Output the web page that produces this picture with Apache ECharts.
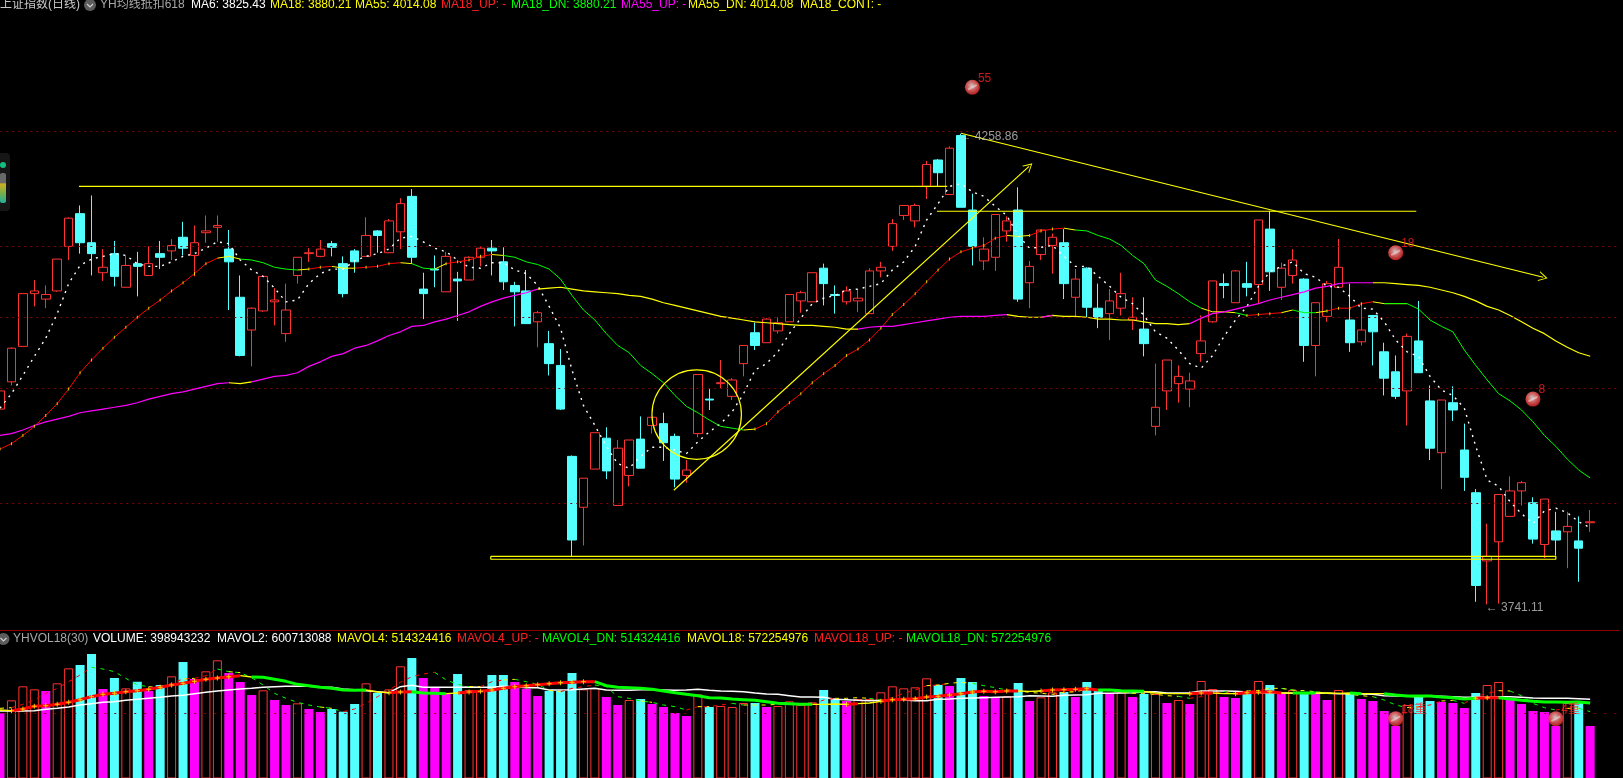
<!DOCTYPE html>
<html><head><meta charset="utf-8">
<style>html,body{margin:0;padding:0;background:#000;overflow:hidden}#c{width:1623px;height:778px}</style>
<script src="https://cdn.jsdelivr.net/npm/echarts@6/dist/echarts.min.js"></script>
</head><body><div id="c"></div>
<script>
const opens=[3956,3986,4025,4083,4077,4086,4135,4171,4139,4106,4127,4090,4116,4103,4127,4130,4145,4125,4150,4156,4132,4079,4043,4064,4074,4039,4103,4127,4124,4138,4116,4130,4124,4152,4128,4151,4190,4088,4110,4085,4099,4098,4123,4133,4118,4092,4086,4052,4028,4004,3904,3848,3890,3924,3850,3883,3923,3938,3940,3926,3883,3929,3967,3984,3970,4006,4040,4029,4042,4052,4075,4074,4111,4082,4074,4075,4061,4108,4135,4169,4163,4201,4230,4192,4257,4175,4119,4123,4152,4175,4095,4126,4136,4139,4079,4111,4067,4061,4067,4054,4044,3937,3976,3984,3978,4017,4052,4094,4073,4094,4093,4154,4090,4103,4099,4026,4058,4090,4054,4030,4059,4019,3997,3976,4031,3965,3908,3963,3911,3864,3789,3810,3838,3866,3853,3807,3822,3821,3811,3831];
const closes=[3976,4023,4083,4086,4082,4121,4166,4139,4127,4112,4102,4114,4113,4116,4123,4136,4133,4139,4152,4158,4118,4015,4067,4102,4076,4065,4123,4128,4132,4134,4083,4118,4147,4147,4163,4182,4123,4083,4109,4124,4097,4123,4133,4130,4096,4085,4050,4062,4006,3956,3812,3880,3930,3888,3913,3922,3891,3947,3919,3879,3889,3994,3966,3985,3988,4026,4026,4055,4051,4082,4084,4106,4094,4081,4086,4078,4108,4112,4160,4180,4180,4225,4216,4243,4178,4135,4132,4170,4163,4077,4113,4153,4145,4094,4099,4068,4057,4075,4083,4057,4028,3958,4010,3992,3987,4031,4097,4092,4108,4090,4164,4107,4111,4120,4026,4073,4094,4112,4029,4043,4041,3990,3970,4036,3996,3913,3966,3955,3881,3762,3794,3862,3866,3875,3813,3857,3812,3827,3803,3832];
const lows=[3956,3982,4025,4069,4067,4085,4120,4127,4103,4097,4091,4090,4080,4103,4110,4120,4125,4102,4139,4140,4065,4014,4003,4063,4048,4030,4094,4118,4123,4124,4079,4106,4124,4128,4128,4132,4116,4055,4090,4085,4053,4098,4113,4103,4087,4047,4050,4024,3993,3955,3794,3806,3890,3879,3850,3871,3891,3929,3899,3870,3875,3925,3955,3979,3966,3992,4021,4029,4039,4052,4062,4074,4070,4061,4071,4063,4061,4101,4130,4164,4156,4187,4201,4192,4178,4114,4109,4108,4140,4074,4067,4120,4105,4077,4057,4057,4045,4032,4059,4043,4014,3927,3955,3963,3958,4008,4051,4078,4073,4080,4072,4086,4076,4094,4008,3992,4052,4090,4019,4026,4004,3971,3967,3938,3996,3900,3868,3943,3866,3744,3741.11,3742,3838,3850,3808,3792,3795,3781,3766,3821];
const highs=[3976,4024,4083,4098,4092,4121,4167,4180,4191,4132,4141,4125,4129,4135,4141,4143,4162,4158,4169,4169,4153,4103,4068,4103,4089,4094,4123,4133,4142,4141,4124,4132,4167,4153,4165,4188,4198,4106,4125,4129,4107,4124,4135,4142,4134,4096,4109,4064,4042,4022,3905,3880,3930,3936,3922,3922,3948,3947,3952,3929,3900,3994,3978,4010,3990,4026,4051,4056,4057,4082,4086,4106,4116,4092,4091,4088,4111,4118,4165,4180,4182,4229,4231,4245,4258.86,4193,4145,4170,4168,4200,4119,4153,4149,4154,4110,4112,4094,4088,4106,4079,4079,4006,4010,4004,3996,4059,4097,4105,4109,4118,4164,4174,4117,4132,4100,4073,4097,4143,4094,4073,4059,4029,4015,4039,4075,3982,3966,3981,3940,3868,3830,3862,3882,3877,3859,3857,3843,3843,3838,3845];
const ma6=[3957,3973,3993,4014,4034,4061,4094,4114,4121,4124,4127,4125,4116,4113,4113,4118,4124,4127,4133,4140,4138,4120,4109,4102,4089,4074,4076,4094,4105,4110,4110,4119,4124,4127,4132,4144,4146,4140,4133,4129,4120,4112,4111,4117,4117,4109,4105,4092,4069,4045,3999,3960,3938,3915,3896,3891,3904,3914,3914,3911,3907,3920,3931,3940,3953,3973,3999,4006,4019,4039,4056,4072,4078,4081,4087,4088,4091,4094,4109,4118,4135,4164,4182,4201,4204,4195,4190,4179,4169,4147,4133,4134,4136,4124,4113,4113,4102,4091,4079,4072,4059,4041,4034,4021,4006,4001,4015,4036,4054,4069,4091,4107,4113,4118,4105,4101,4091,4090,4080,4067,4066,4052,4032,4019,4014,3992,3977,3971,3957,3915,3878,3871,3854,3841,3830,3844,3847,3842,3832,3825.43];
const ma18=[3912,3918,3927,3937,3949,3962,3978,3996,4010,4023,4035,4046,4057,4067,4076,4086,4095,4105,4116,4122,4124,4121,4120,4117,4112,4110,4109,4110,4112,4113,4111,4111,4112,4113,4116,4117,4116,4111,4110,4116,4118,4120,4124,4126,4125,4123,4118,4115,4110,4099,4081,4065,4054,4039,4026,4018,4004,3995,3985,3971,3959,3952,3944,3937,3935,3933,3934,3940,3953,3963,3973,3985,3995,4004,4015,4022,4032,4045,4060,4071,4083,4096,4109,4121,4129,4133,4136,4144,4147,4146,4147,4152,4154,4155,4153,4152,4147,4143,4136,4125,4116,4098,4091,4083,4074,4067,4063,4063,4062,4059,4060,4061,4062,4065,4062,4062,4064,4067,4067,4072,4074,4072,4072,4072,4066,4054,4047,4041,4021,4004,3988,3973,3965,3955,3942,3927,3915,3901,3889,3880.21];
const ma55=[3927,3929,3933,3938,3942,3945,3948,3952,3954,3956,3958,3960,3963,3967,3970,3973,3975,3978,3981,3984,3985,3984,3986,3989,3992,3993,3996,4003,4008,4014,4017,4023,4026,4031,4037,4041,4047,4048,4052,4055,4059,4063,4069,4074,4078,4081,4084,4088,4089,4090,4088,4086,4085,4084,4083,4081,4080,4077,4073,4070,4067,4064,4061,4058,4056,4054,4052,4051,4050,4049,4048,4048,4047,4046,4044,4044,4046,4047,4047,4049,4051,4053,4055,4057,4058,4058,4058,4059,4060,4058,4057,4057,4059,4058,4058,4057,4055,4055,4054,4054,4052,4050,4050,4049,4050,4056,4061,4063,4066,4069,4072,4076,4079,4082,4085,4089,4091,4094,4095,4095,4095,4095,4094,4093,4092,4090,4087,4084,4080,4075,4069,4065,4059,4052,4045,4039,4031,4024,4018,4014.08];
const ma18States=[[0,19,'r'],[19,21,'y'],[21,26,'g'],[26,27,'y'],[27,29,'r'],[29,31,'y'],[31,35,'r'],[35,36,'y'],[36,38,'g'],[38,39,'y'],[39,43,'r'],[43,44,'y'],[44,65,'g'],[65,66,'y'],[66,88,'r'],[88,90,'y'],[90,93,'r'],[93,94,'y'],[94,105,'g'],[105,108,'y'],[108,109,'g'],[109,112,'r'],[112,113,'y'],[113,115,'g'],[115,116,'y'],[116,120,'r'],[120,121,'y'],[121,122,'g'],[122,123,'y'],[123,139,'g']];
const ma55States=[[0,20,'m'],[20,22,'y'],[22,47,'m'],[47,75,'y'],[75,88,'m'],[88,91,'y'],[91,92,'m'],[92,104,'y'],[104,120,'m'],[120,139,'y']];
const volumes=[475,553,637,619,609,655,745,765,831,621,687,625,665,609,645,697,783,681,727,793,717,663,585,613,555,525,535,501,483,501,485,531,655,597,619,757,807,687,627,597,711,615,615,705,705,663,621,579,609,609,717,619,625,573,525,555,561,531,513,477,459,589,513,519,513,537,537,513,519,547,525,541,615,561,549,561,561,601,637,625,631,685,645,639,687,663,579,573,577,657,549,571,601,603,573,663,609,591,601,573,591,591,537,555,531,669,621,573,567,591,669,645,591,615,597,591,555,615,591,561,549,489,399,525,573,549,543,537,507,597,645,663,561,531,489,483,399,537,549,398.9];
const volKinds="mrrrmrrccm"+"crcmcrcmrr"+"mmmrmmrmmc"+"ccrcrrcmmm"+"crrccmmmcc"+"crrmmrcmmm"+"mrcrrrcmrr"+"rrccmrrrrr"+"rrcmccmmrc"+"mrrcmccmrm"+"crmrmrrmmc"+"rcmrcmmrcm"+"mmmrccmmmc"+"rrmmmmmrcm";
const volThick=[495,491,501,517,521,529,541,557,575,589,595,605,611,619,631,645,655,667,679,687,695,701,693,691,679,667,649,641,631,625,615,613,615,603,599,603,605,597,595,593,597,603,607,615,625,635,641,647,653,659,661,665,665,641,631,629,625,619,609,599,589,581,569,567,561,557,553,545,535,533,529,529,529,531,529,533,537,547,557,559,563,573,577,585,593,603,607,605,609,609,607,609,615,617,619,623,615,615,611,609,607,597,593,593,593,597,597,593,593,599,601,605,597,597,597,597,597,595,597,593,593,593,585,579,579,579,573,569,561,565,569,569,561,553,547,543,543,541,543,537];
const volThickStates=[[0,1,'y'],[1,21,'r'],[21,22,'y'],[22,32,'g'],[32,34,'y'],[34,36,'r'],[36,39,'g'],[39,40,'y'],[40,52,'r'],[52,71,'g'],[71,74,'y'],[74,75,'r'],[75,77,'y'],[77,89,'r'],[89,91,'y'],[91,96,'r'],[96,100,'g'],[100,104,'y'],[104,106,'r'],[106,108,'y'],[108,112,'r'],[112,113,'y'],[113,115,'g'],[115,118,'y'],[118,119,'g'],[119,121,'y'],[121,129,'g'],[129,131,'r'],[131,139,'g']];
const volWhite=[489,489,489,491,499,505,513,525,533,541,545,553,559,565,571,579,583,593,601,609,615,621,625,631,635,637,637,637,633,631,621,617,611,605,599,635,643,631,631,631,631,633,631,631,637,635,629,629,615,615,617,621,625,615,613,613,617,617,615,613,615,619,613,609,607,605,597,591,589,581,573,573,571,559,557,553,551,553,557,555,551,551,559,561,565,567,569,571,573,575,581,579,577,583,585,587,595,595,597,599,603,605,597,597,599,609,609,609,607,603,599,597,597,595,595,595,595,593,593,591,589,581,579,577,575,579,577,575,571,571,573,575,575,571,567,565,565,565,563,559];
const volDash=[505,509,529,555,595,625,665,705,751,741,725,685,645,635,629,655,681,685,701,741,725,719,689,645,595,565,541,525,513,505,485,501,535,575,613,661,695,711,721,675,649,635,635,665,675,679,665,649,613,605,625,635,645,635,575,565,549,541,525,515,495,515,515,525,535,525,525,525,529,535,529,529,555,565,565,569,565,555,569,595,615,641,645,655,661,655,641,629,615,609,601,595,589,601,605,619,615,611,605,595,595,589,581,577,565,575,595,605,595,609,611,625,625,615,611,605,595,595,589,581,575,555,525,509,515,525,549,553,535,575,595,611,609,581,535,509,495,505,505,485];
const gridLevels=[4261.6,4134.9,4056.8,3978.9,3852.4];
const volGridLevel=[475];
const resistanceA=[[6.9,4201],[82.8,4201]];
const resistanceB=[[81.9,4173.6],[123.8,4173.6]];
const supportBox=[[42.9,3794],[136,3794],[136,3790.8],[42.9,3790.8],[42.9,3794]];
const upTrend=[[58.9,3866.7],[89.95,4223]];
const downTrend=[[84,4259.4],[134.9,4101]];
const circleMark=[60.9,3950,3.91];
const priceMarks=[[85,4310,'55'],[122,4128,'18'],[134,3967,'8']];
const volMarks=[[122,443,'18重'],[136,443,'4重']];
const extremes=[[84,4258.86,'← 4258.86'],[130,3741.11,'← 3741.11']];
const headerMain=[['上证指数(日线)',0,'#c8c8c8'],['YH均线抵扣618',100,'#a8a8a8'],['MA6: 3825.43',191,'#ffffff'],['MA18: 3880.21',270,'#ffff00'],['MA55: 4014.08',355,'#ffff00'],['MA18_UP: -',441,'#ff2020'],['MA18_DN: 3880.21',511,'#00ff00'],['MA55_UP: -',621,'#ff00ff'],['MA55_DN: 4014.08',688,'#ffff00'],['MA18_CONT: -',800,'#ffff00']];
const headerVol=[['YHVOL18(30)',13,'#a8a8a8'],['VOLUME: 398943232',93,'#ffffff'],['MAVOL2: 600713088',217,'#ffffff'],['MAVOL4: 514324416',337,'#ffff00'],['MAVOL4_UP: -',457,'#ff2020'],['MAVOL4_DN: 514324416',542,'#00ff00'],['MAVOL18: 572254976',687,'#ffff00'],['MAVOL18_UP: -',814,'#ff2020'],['MAVOL18_DN: 572254976',906,'#00ff00']];

const RED='#ff3232',CY='#54ffff',YE='#ffff00',GR='#00ff00',MG='#ff00ff',GRID='#8c0000';
const cols={r:'#ff0000',g:GR,y:YE,m:MG};
const SLOTS=142,BAND=11.44,FONT='"Liberation Sans","Noto Sans CJK SC",sans-serif';
const cats=Array.from({length:SLOTS},(_,i)=>String(i));
const candle=opens.map((o,i)=>[o,closes[i],lows[i],highs[i]]);

function segMap(ranges,n){const s=new Array(n).fill(null);ranges.forEach(([a,b,c])=>{for(let j=a;j<b;j++)s[j]=c;});return s;}
function colored(vals,ranges,color,width,xi,yi,z){
  const s=segMap(ranges,vals.length);
  return Object.keys(color).map(c=>({type:'line',xAxisIndex:xi,yAxisIndex:yi,z:c==='y'?z-1:z,showSymbol:false,symbol:'none',silent:true,
    lineStyle:{color:color[c],width:typeof width==='object'?width[c]:width},
    data:vals.map((v,i)=>(s[i]===c||s[i-1]===c)?v:null)}));
}
function ticks(vals,ranges,xi,yi,symbol,size,z){
  const s=segMap(ranges,vals.length);
  return {type:'scatter',xAxisIndex:xi,yAxisIndex:yi,z,symbol,symbolSize:size,silent:true,itemStyle:{color:YE},
    data:vals.map((v,i)=>s[i]==='r'?[i,v]:null).filter(Boolean)};
}
function dashSeries(){
  const classify=i=>{const d=volDash[i+1]-volDash[i];return d>8?'r':d<-8?'g':'y';};
  return ['r','g','y'].map(c=>({type:'line',xAxisIndex:1,yAxisIndex:1,z:6,symbol:'none',silent:true,
    lineStyle:{color:cols[c],width:1,type:[4,5]},
    data:volDash.map((v,i)=>(i<volDash.length-1&&classify(i)===c)||(i>0&&classify(i-1)===c)?v:null)}));
}
function yLine(points,width){return {type:'line',xAxisIndex:2,yAxisIndex:0,z:9,symbol:'none',silent:true,data:points,lineStyle:{color:YE,width}};}
function arrow(points){
  return {type:'line',xAxisIndex:2,yAxisIndex:0,z:9,symbol:'none',silent:true,data:[],
    markLine:{silent:true,animation:false,symbol:['none','path://M0 0L10 14L8 14L0 3L-8 14L-10 14Z'],symbolSize:[10,9],
      label:{show:false},lineStyle:{color:YE,width:1.2,type:'solid'},
      data:[[{coord:points[0]},{coord:points[1]}]]}};
}
const ball={type:'radial',x:0.45,y:0.4,r:0.62,colorStops:[{offset:0,color:'#fff0f0'},{offset:0.5,color:'#ff7070'},{offset:1,color:'#d82020'}]};
function marks(list,xi,yi){
  return [{type:'scatter',xAxisIndex:xi,yAxisIndex:yi,z:12,symbol:'circle',symbolSize:15,silent:true,itemStyle:{color:ball},
    data:list.map(m=>({value:[m[0],m[1]],label:{formatter:m[2]}})),
    label:{show:true,position:'right',distance:0,offset:[-2,-9],color:'#ff2020',fontSize:12,fontFamily:FONT}},
   {type:'scatter',xAxisIndex:xi,yAxisIndex:yi,z:13,symbol:'rect',symbolSize:[10,2],symbolRotate:28,silent:true,
    itemStyle:{color:'rgba(255,255,255,0.5)'},data:list.map(m=>[m[0],m[1]])}];
}
const series=[
 {type:'candlestick',xAxisIndex:0,yAxisIndex:0,z:3,barWidth:9,silent:true,data:candle,
  itemStyle:{color:'rgba(0,0,0,0)',color0:CY,borderColor:RED,borderColor0:CY,borderColorDoji:RED,borderWidth:1},
  markLine:{silent:true,animation:false,symbol:'none',label:{show:false},lineStyle:{color:GRID,width:1,type:[2,4]},
    data:gridLevels.map(v=>({yAxis:v}))}},
 {type:'line',xAxisIndex:0,yAxisIndex:0,z:5,symbol:'none',silent:true,data:ma6,lineStyle:{color:'#fff',width:1.4,type:[2,5]}},
 ...colored(ma18,ma18States,{r:'#ff0000',g:GR,y:YE},1,0,0,5),
 ticks(ma18,ma18States,0,0,'rect',[1,3],6),
 ...colored(ma55,ma55States,{m:MG,y:YE},1.2,0,0,5),
 yLine(resistanceA,1.2),yLine(resistanceB,1.2),yLine(supportBox,1.2),
 arrow(upTrend),arrow(downTrend),
 {type:'custom',xAxisIndex:2,yAxisIndex:0,z:9,silent:true,data:[circleMark],
  renderItem(p,api){const c=api.coord([api.value(0),api.value(1)]);const r=api.size([api.value(2),0])[0];
    return {type:'circle',shape:{cx:c[0],cy:c[1],r},style:{fill:'none',stroke:YE,lineWidth:1.2}};}},
 {type:'scatter',xAxisIndex:0,yAxisIndex:0,z:11,symbol:'circle',symbolSize:1,silent:true,itemStyle:{color:'rgba(0,0,0,0)'},
  data:extremes.map(m=>({value:[m[0],m[1]],label:{formatter:m[2]}})),
  label:{show:true,position:'right',distance:0,offset:[-2,3],color:'#c0c0c0',fontSize:12,fontFamily:FONT}},
 ...marks(priceMarks,0,0),
 {type:'bar',xAxisIndex:1,yAxisIndex:1,z:3,barWidth:9,silent:true,
  data:volumes.map((v,i)=>{const k=volKinds[i];return {value:v,itemStyle:k==='r'?{color:'rgba(0,0,0,0)',borderColor:RED,borderWidth:1}:{color:k==='c'?CY:MG}};}),
  markLine:{silent:true,animation:false,symbol:'none',label:{show:false},lineStyle:{color:GRID,width:1,type:[2,8]},data:volGridLevel.map(v=>({yAxis:v}))}},
 {type:'line',xAxisIndex:1,yAxisIndex:1,z:5,symbol:'none',silent:true,data:volWhite,lineStyle:{color:'#fff',width:1.5}},
 ...dashSeries(),
 ...colored(volThick,volThickStates,{r:'#ff0000',g:GR,y:YE},{r:3,g:3,y:1.4},1,1,7),
 ticks(volThick,volThickStates,1,1,'path://M2 0H3V2H5V3H3V5H2V3H0V2H2Z',5,8),
 ...marks(volMarks,1,1)
];
const txt=(t,x,y,c)=>({type:'text',z:20,style:{text:t,x,y,fill:c,font:'12px '+FONT,textVerticalAlign:'middle'}});
const icon=(x,y)=>[{type:'circle',z:20,shape:{cx:x,cy:y,r:6},style:{fill:'#5c5c5c'}},
  {type:'polyline',z:21,shape:{points:[[x-3,y-1],[x,y+2],[x+3,y-1]]},style:{stroke:'#cfcfcf',lineWidth:1.2,fill:'none'}}];
const graphic=[
 ...headerMain.map(h=>txt(h[0],h[1],5,h[2])),
 ...icon(90,5),
 ...headerVol.map(h=>txt(h[0],h[1],639,h[2])),
 ...icon(3.5,639),
 {type:'rect',z:20,shape:{x:-6,y:153,width:16,height:58,r:4},style:{fill:'#161616'}},
 {type:'circle',z:21,shape:{cx:3,cy:165,r:3},style:{fill:'#10c080'}},
 {type:'rect',z:21,shape:{x:0,y:173,width:6,height:30,r:2},style:{fill:{type:'linear',x:0,y:0,x2:0,y2:1,colorStops:[{offset:0,color:'#6a6a6a'},{offset:0.33,color:'#6a6a6a'},{offset:0.36,color:'#d0b020'},{offset:0.7,color:'#70b050'},{offset:1,color:'#20b0a0'}]}}}
];
const hidden={show:false};
const chart=echarts.init(document.getElementById('c'),null,{renderer:'canvas'});
chart.setOption({
 animation:false,backgroundColor:'#000',
 grid:[{left:-BAND/2,top:20,width:BAND*SLOTS,height:610,outerBoundsMode:'none'},{left:-BAND/2,top:631,width:BAND*SLOTS,height:147,outerBoundsMode:'none'}],
 xAxis:[
  {type:'category',gridIndex:0,data:cats,axisLine:{show:true,lineStyle:{color:GRID,width:1}},axisTick:hidden,axisLabel:hidden,splitLine:hidden},
  {type:'category',gridIndex:1,data:cats,axisLine:hidden,axisTick:hidden,axisLabel:hidden,splitLine:hidden},
  {type:'value',gridIndex:0,min:-0.5,max:SLOTS-0.5,show:false,splitLine:hidden}
 ],
 yAxis:[
  {type:'value',gridIndex:0,min:3713,max:4384,show:false,splitLine:hidden,scale:true},
  {type:'value',gridIndex:1,min:87,max:969,show:false,splitLine:hidden,scale:true}
 ],
 series,graphic,tooltip:{show:false},legend:{show:false}
});
</script></body></html>
